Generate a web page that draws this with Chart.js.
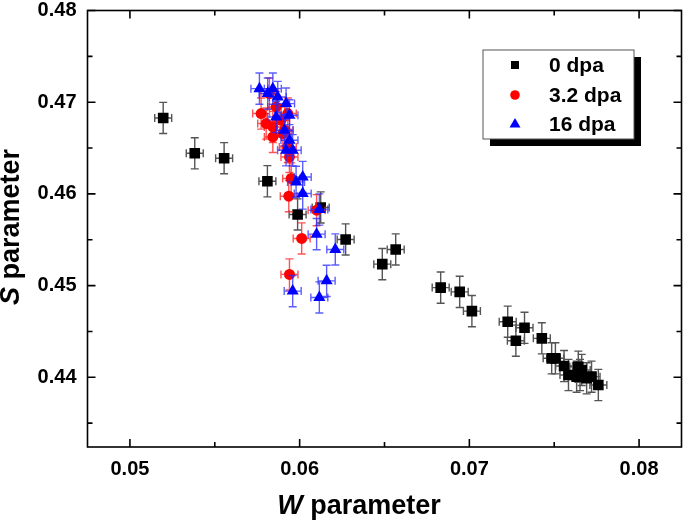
<!DOCTYPE html>
<html>
<head>
<meta charset="utf-8">
<script src="https://cdn.jsdelivr.net/npm/chart.js@4.4.1/dist/chart.umd.min.js"></script>
<style>
  html, body { margin: 0; padding: 0; background: #fff; overflow: hidden; }
  /* a little wider than the window: the layout keeps a 5px right gap */
  #wrap { position: relative; width: 689px; height: 525px; }
  canvas { display: block; }
</style>
</head>
<body>
<div id="wrap"><canvas id="myChart"></canvas></div>
<script>
// series labels
const seriesNames = ['0 dpa', '3.2 dpa', '16 dpa'];

// 0 dpa
const blackW = [0.05196, 0.05382, 0.05555, 0.05810, 0.05988, 0.06124, 0.06271, 0.06487, 0.06566,
  0.06831, 0.06943, 0.07015, 0.07226, 0.07325, 0.07274, 0.07427, 0.07485, 0.07507, 0.07558,
  0.07584, 0.07642, 0.07662, 0.07632, 0.07720, 0.07760, 0.07691, 0.07652];
const blackS = [0.46828, 0.46443, 0.46389, 0.46138, 0.45776, 0.45852, 0.45503, 0.45234, 0.45394,
  0.44978, 0.44932, 0.44722, 0.44606, 0.44540, 0.44399, 0.44425, 0.44207, 0.44207, 0.44123,
  0.44025, 0.44115, 0.44080, 0.44007, 0.44007, 0.43916, 0.43989, 0.44025];

// 3.2 dpa
const redW = [0.05773, 0.05822, 0.05862, 0.05891, 0.05803, 0.05842, 0.05930, 0.05911, 0.05901,
  0.05842, 0.05930, 0.05940, 0.05950, 0.05936, 0.06100, 0.06012, 0.05940];
const redS = [0.46876, 0.47094, 0.46948, 0.46803, 0.46767, 0.46730, 0.46876, 0.46694, 0.46658,
  0.46621, 0.46512, 0.46403, 0.46168, 0.45975, 0.45822, 0.45514, 0.45122];

// 16 dpa
const blueW = [0.05763, 0.05842, 0.05812, 0.05871, 0.05920, 0.05940, 0.05862, 0.05911, 0.05940,
  0.05920, 0.05959, 0.06018, 0.05979, 0.06018, 0.06116, 0.06100, 0.06210, 0.06159, 0.05959, 0.06116];
const blueS = [0.47148, 0.47148, 0.47094, 0.47057, 0.46985, 0.46857, 0.46839, 0.46694, 0.46585,
  0.46476, 0.46476, 0.46185, 0.46131, 0.46004, 0.45830, 0.45561, 0.45394, 0.45052, 0.44940, 0.44871];

// error bar half widths, one per series
const errW = [0.0005, 0.0005, 0.0005];
const errS = [0.0017, 0.0017, 0.0017];

// ticks
const xMajor = [0.05, 0.06, 0.07, 0.08];
const xMinor = [0.055, 0.065, 0.075];
const yMajor = [0.44, 0.45, 0.46, 0.47, 0.48];
const yMinor = [0.435, 0.445, 0.455, 0.465, 0.475];

const FONT = '"Liberation Sans", Arial, sans-serif';

function pts(xs, ys) {
  return xs.map((x, i) => ({ x: x, y: ys[i] }));
}

const errColors = ['#555555', 'rgba(255,40,40,0.8)', 'rgba(40,40,255,0.75)'];

const errorBars = {
  id: 'errorBars',
  beforeDatasetDraw(chart, args) {
    const i = args.index;
    const ds = chart.data.datasets[i];
    const xs = chart.scales.x, ys = chart.scales.y;
    const c = chart.ctx;
    c.save();
    c.strokeStyle = errColors[i];
    c.lineWidth = 1.4;
    const cap = 4;
    ds.data.forEach(p => {
      const px = xs.getPixelForValue(p.x), py = ys.getPixelForValue(p.y);
      const x0 = xs.getPixelForValue(p.x - errW[i]), x1 = xs.getPixelForValue(p.x + errW[i]);
      const y0 = ys.getPixelForValue(p.y - errS[i]), y1 = ys.getPixelForValue(p.y + errS[i]);
      c.beginPath();
      c.moveTo(px, y0); c.lineTo(px, y1);
      c.moveTo(px - cap, y0); c.lineTo(px + cap, y0);
      c.moveTo(px - cap, y1); c.lineTo(px + cap, y1);
      c.moveTo(x0, py); c.lineTo(x1, py);
      c.moveTo(x0, py - cap); c.lineTo(x0, py + cap);
      c.moveTo(x1, py - cap); c.lineTo(x1, py + cap);
      c.stroke();
    });
    c.restore();
  }
};

// draws "<italic letter> parameter" centred on (0,0)
function axisTitle(c, letter) {
  c.font = 'italic bold 27px ' + FONT;
  const w1 = c.measureText(letter).width;
  c.font = 'bold 27px ' + FONT;
  const w2 = c.measureText(' parameter').width;
  const x = -(w1 + w2) / 2;
  c.textAlign = 'left';
  c.textBaseline = 'middle';
  c.font = 'italic bold 27px ' + FONT;
  c.fillText(letter, x, 0);
  c.font = 'bold 27px ' + FONT;
  c.fillText(' parameter', x + w1, 0);
}

const frame = {
  id: 'frame',
  afterDraw(chart) {
    const c = chart.ctx, a = chart.chartArea;
    const xs = chart.scales.x, ys = chart.scales.y;
    c.save();
    c.strokeStyle = '#000';
    c.lineWidth = 1.6;
    c.strokeRect(a.left, a.top, a.right - a.left, a.bottom - a.top);
    c.beginPath();
    xMajor.forEach(v => {
      const px = xs.getPixelForValue(v);
      c.moveTo(px, a.bottom); c.lineTo(px, a.bottom - 8);
      c.moveTo(px, a.top); c.lineTo(px, a.top + 8);
    });
    xMinor.forEach(v => {
      const px = xs.getPixelForValue(v);
      c.moveTo(px, a.bottom); c.lineTo(px, a.bottom - 5);
      c.moveTo(px, a.top); c.lineTo(px, a.top + 5);
    });
    yMajor.forEach(v => {
      const py = ys.getPixelForValue(v);
      c.moveTo(a.left, py); c.lineTo(a.left + 8, py);
      c.moveTo(a.right, py); c.lineTo(a.right - 8, py);
    });
    yMinor.forEach(v => {
      const py = ys.getPixelForValue(v);
      c.moveTo(a.left, py); c.lineTo(a.left + 5, py);
      c.moveTo(a.right, py); c.lineTo(a.right - 5, py);
    });
    c.stroke();

    // axis titles
    c.fillStyle = '#000';
    c.save();
    c.translate(359, 507);
    axisTitle(c, 'W');
    c.restore();

    c.save();
    c.translate(12, 227);
    c.rotate(-Math.PI / 2);
    axisTitle(c, 'S');
    c.restore();

    // legend box with shadow
    const lx = 483, ly = 50, lw = 151, lh = 89;
    c.fillStyle = '#000';
    c.fillRect(lx + 7, ly + 7, lw, lh);
    c.fillStyle = '#fff';
    c.fillRect(lx, ly, lw, lh);
    c.lineWidth = 1;
    c.strokeStyle = '#555';
    c.strokeRect(lx, ly, lw, lh);
    const rows = [65, 95, 124];
    const cols = ['#000', '#ff0000', '#0000ff'];
    c.textBaseline = 'middle';
    rows.forEach((ry, k) => {
      c.fillStyle = cols[k];
      c.beginPath();
      if (k === 0) {
        c.rect(515 - 4, ry - 4, 8, 8);
      } else if (k === 1) {
        c.arc(515, ry, 4.8, 0, Math.PI * 2);
      } else {
        c.moveTo(515, ry - 6); c.lineTo(520.5, ry + 3.5); c.lineTo(509.5, ry + 3.5); c.closePath();
      }
      c.fill();
      c.fillStyle = '#000';
      c.font = 'bold 21px ' + FONT;
      c.textAlign = 'left';
      c.fillText(seriesNames[k], 549, ry + 1);
    });
    c.restore();
  }
};

const ctx = document.getElementById('myChart');

new Chart(ctx, {
  type: 'scatter',
  data: {
    datasets: [{
      label: seriesNames[0],
      data: pts(blackW, blackS),
      pointStyle: 'rect',
      pointRadius: 7.5,
      backgroundColor: '#000',
      borderColor: '#000',
      borderWidth: 0,
      order: 3
    }, {
      label: seriesNames[1],
      data: pts(redW, redS),
      pointStyle: 'circle',
      pointRadius: 5.5,
      backgroundColor: '#ff0000',
      borderColor: '#ff0000',
      borderWidth: 0,
      order: 2
    }, {
      label: seriesNames[2],
      data: pts(blueW, blueS),
      pointStyle: 'triangle',
      pointRadius: 7,
      backgroundColor: '#0000ff',
      borderColor: '#0000ff',
      borderWidth: 0,
      order: 1
    }]
  },
  options: {
    responsive: true,
    maintainAspectRatio: false,
    animation: false,
    layout: { padding: { top: 10.5, right: 1, left: 0, bottom: 0 } },
    plugins: { legend: { display: false }, tooltip: { enabled: false } },
    scales: {
      x: {
        type: 'linear',
        min: 0.0475,
        max: 0.0825,
        grid: { display: false, drawTicks: false },
        border: { display: false },
        afterBuildTicks: s => { s.ticks = xMajor.map(v => ({ value: v })); },
        afterFit: s => { s.height = 78; s.paddingLeft = 0; s.paddingRight = 0; },
        ticks: {
          color: '#000',
          padding: 10,
          maxRotation: 0,
          font: { family: FONT, size: 20, weight: 'bold' },
          callback: v => v.toFixed(2)
        }
      },
      y: {
        type: 'linear',
        min: 0.4324,
        max: 0.48,
        grid: { display: false, drawTicks: false },
        border: { display: false },
        afterBuildTicks: s => { s.ticks = yMajor.map(v => ({ value: v })); },
        afterFit: s => { s.width = 87.5; s.paddingTop = 0; s.paddingBottom = 0; },
        ticks: {
          color: '#000',
          padding: 11,
          font: { family: FONT, size: 20, weight: 'bold' },
          callback: v => v.toFixed(2)
        }
      }
    }
  },
  plugins: [errorBars, frame]
});
</script>
</body>
</html>
